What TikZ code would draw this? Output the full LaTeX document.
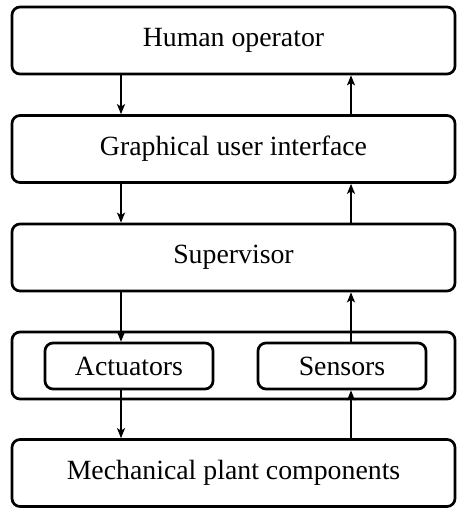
\documentclass[tikz,border=0pt]{standalone}
\usepackage{fontspec}
\setmainfont{Liberation Serif}
\usetikzlibrary{arrows.meta}
\begin{document}
\begin{tikzpicture}[x=0.5pt,y=-0.5pt,
  box/.style={draw, line width=1.35pt, rounded corners=4pt, inner sep=0pt,
    font=\fontsize{13.9}{16}\selectfont},
  bigbox/.style={box, minimum width=221.5pt, minimum height=33.5pt},
  smallbox/.style={box, minimum width=84pt, minimum height=23pt},
  arr/.style={line width=0.8pt, -{Stealth[length=5pt,width=4pt,inset=1.2pt]}}]
\useasboundingbox (0,0) rectangle (456,508);
\node[bigbox] (b1) at (233.5,40.5) {Human operator};
\node[bigbox] (b2) at (233.5,149) {Graphical user interface};
\node[bigbox] (b3) at (233.5,257.5) {Supervisor};
\node[bigbox] (b4) at (233.5,365.5) {};
\node[bigbox] (b5) at (233.5,473) {Mechanical plant components};
\node[smallbox] (act) at (129,366) {Actuators};
\node[smallbox] (sen) at (342,366) {Sensors};
\coordinate (xl) at (121,0);
\coordinate (xr) at (351,0);
\draw[arr] (b1.south -| xl) -- (b2.north -| xl);
\draw[arr] (b2.north -| xr) -- (b1.south -| xr);
\draw[arr] (b2.south -| xl) -- (b3.north -| xl);
\draw[arr] (b3.north -| xr) -- (b2.south -| xr);
\draw[arr] (b3.south -| xl) -- (act.north -| xl);
\draw[arr] (sen.north -| xr) -- (b3.south -| xr);
\draw[arr] (act.south -| xl) -- (b5.north -| xl);
\draw[arr] (b5.north -| xr) -- (sen.south -| xr);
\end{tikzpicture}
\end{document}
